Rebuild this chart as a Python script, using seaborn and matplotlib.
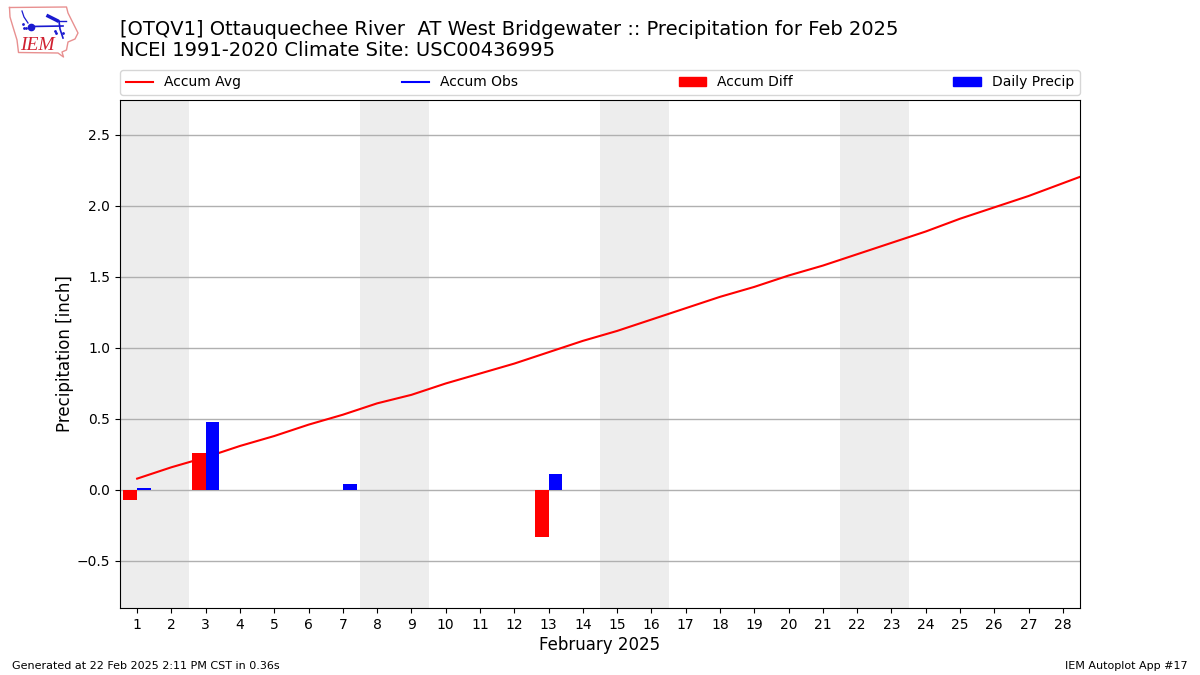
import pandas as pd
import seaborn as sns
import matplotlib
matplotlib.use('Agg')
import matplotlib.pyplot as plt
from matplotlib.lines import Line2D
from matplotlib.patches import Patch

days = list(range(1, 29))
# one extra day in the climatology, the line runs off the right edge
avg_days = days + [29]
accum_avg = [0.08, 0.16, 0.23, 0.31, 0.38, 0.46, 0.53, 0.61, 0.67, 0.75,
             0.82, 0.89, 0.97, 1.05, 1.12, 1.20, 1.28, 1.36, 1.43, 1.51,
             1.58, 1.66, 1.74, 1.82, 1.91, 1.99, 2.07, 2.16, 2.25]
accum_diff = [-0.07, 0, 0.26, 0, 0, 0, 0, 0, 0, 0, 0, 0, -0.33, 0,
              0, 0, 0, 0, 0, 0, 0, 0, 0, 0, 0, 0, 0, 0]
daily_precip = [0.015, 0, 0.48, 0, 0, 0, 0.04, 0, 0, 0, 0, 0, 0.11, 0,
                0, 0, 0, 0, 0, 0, 0, 0, 0, 0, 0, 0, 0, 0]
weekends = [(1, 2), (8, 9), (15, 16), (22, 23)]

df_avg = pd.DataFrame({'day': avg_days, 'precip': accum_avg})
df_bars = pd.concat([
    pd.DataFrame({'day': days, 'precip': accum_diff, 'series': 'Accum Diff'}),
    pd.DataFrame({'day': days, 'precip': daily_precip, 'series': 'Daily Precip'}),
])

fig = plt.figure(figsize=(12, 6.75), dpi=100)
ax = fig.add_axes([0.1, 67 / 675, 0.8, 508 / 675])

for start, end in weekends:
    ax.axvspan(start - 0.5, end + 0.5, color='#ededed', lw=0, zorder=0)

sns.lineplot(data=df_avg, x='day', y='precip', color='red', lw=1.5,
             errorbar=None, ax=ax, zorder=2)
sns.barplot(data=df_bars, x='day', y='precip', hue='series', native_scale=True,
            hue_order=['Accum Diff', 'Daily Precip'],
            palette={'Accum Diff': '#ff0000', 'Daily Precip': '#0000ff'},
            saturation=1, width=0.8, gap=0, errorbar=None, legend=False,
            linewidth=0, ax=ax, zorder=3)

ax.set_xlim(0.5, 28.5)
ax.set_ylim(-0.831, 2.746)
ax.set_xticks(days)
ax.set_xticklabels([str(d) for d in days])
ax.set_yticks([-0.5, 0, 0.5, 1.0, 1.5, 2.0, 2.5])
ax.set_axisbelow('line')
ax.yaxis.grid(True, color='#b0b0b0', lw=1.0)
ax.xaxis.grid(False)
ax.tick_params(labelsize=10)
ax.set_xlabel('February 2025', fontsize=12, labelpad=3)
ax.set_ylabel('Precipitation [inch]', fontsize=12, labelpad=2)

handles = [Line2D([], [], color='red', lw=1.5),
           Line2D([], [], color='blue', lw=1.5),
           Patch(color='#ff0000'),
           Patch(color='#0000ff')]
labels = ['Accum Avg', 'Accum Obs', 'Accum Diff', 'Daily Precip']
ax.legend(handles, labels, loc='lower left', bbox_to_anchor=(0, 1 + 5 / 508, 1, 0.05),
          mode='expand', ncol=4, fontsize=10, borderaxespad=0)

fig.text(0.1, 1 - 29.5 / 675, '[OTQV1] Ottauquechee River  AT West Bridgewater :: Precipitation for Feb 2025',
         fontsize=14, va='center')
fig.text(0.1, 1 - 51 / 675, 'NCEI 1991-2020 Climate Site: USC00436995',
         fontsize=14, va='center')
fig.text(12 / 1200, 1 - 666 / 675, 'Generated at 22 Feb 2025 2:11 PM CST in 0.36s',
         fontsize=8, va='center')
fig.text(1188 / 1200, 1 - 666 / 675, 'IEM Autoplot App #17',
         fontsize=8, va='center', ha='right')

# little IEM logo, axes in pixels of the figure
logo = fig.add_axes([0, 1 - 60 / 675, 80 / 1200, 60 / 675])
logo.set_xlim(0, 80)
logo.set_ylim(60, 0)
logo.axis('off')
outline_x = [9.5, 66.5, 68, 74, 78, 75, 68, 66.5, 62, 63.5, 58, 18.5, 17, 13, 10, 9.5]
outline_y = [7.5, 7, 13, 25, 33, 39, 42, 50, 52, 57, 53, 52.5, 40, 27, 17, 7.5]
logo.plot(outline_x, outline_y, color='#e89090', lw=1.0)
logo.plot([31, 63], [26.5, 26], color='#1a1ad0', lw=1.2)
logo.plot([31], [26.5], 'o', color='#1a1ad0', ms=4.5)
logo.plot([48, 57], [16, 20.5], color='#1a1ad0', lw=2.5)
logo.plot([57, 66], [20.5, 20.5], color='#1a1ad0', lw=1)
logo.plot([59, 60, 63], [21, 29, 38], color='#1a1ad0', lw=1.2)
logo.plot([22, 24, 28], [11, 17, 23], color='#1a1ad0', lw=0.9)
logo.plot([55, 56, 63], [31, 33, 33], '.', color='#1a1ad0', ms=2)
logo.plot([24, 26, 23], [28, 28, 24], '.', color='#1a1ad0', ms=2)
logo.text(37, 45, 'IEM', color='#d02030', fontsize=14, style='italic',
          family='Liberation Serif', ha='center', va='center')

plt.savefig('out.png', dpi=100)
